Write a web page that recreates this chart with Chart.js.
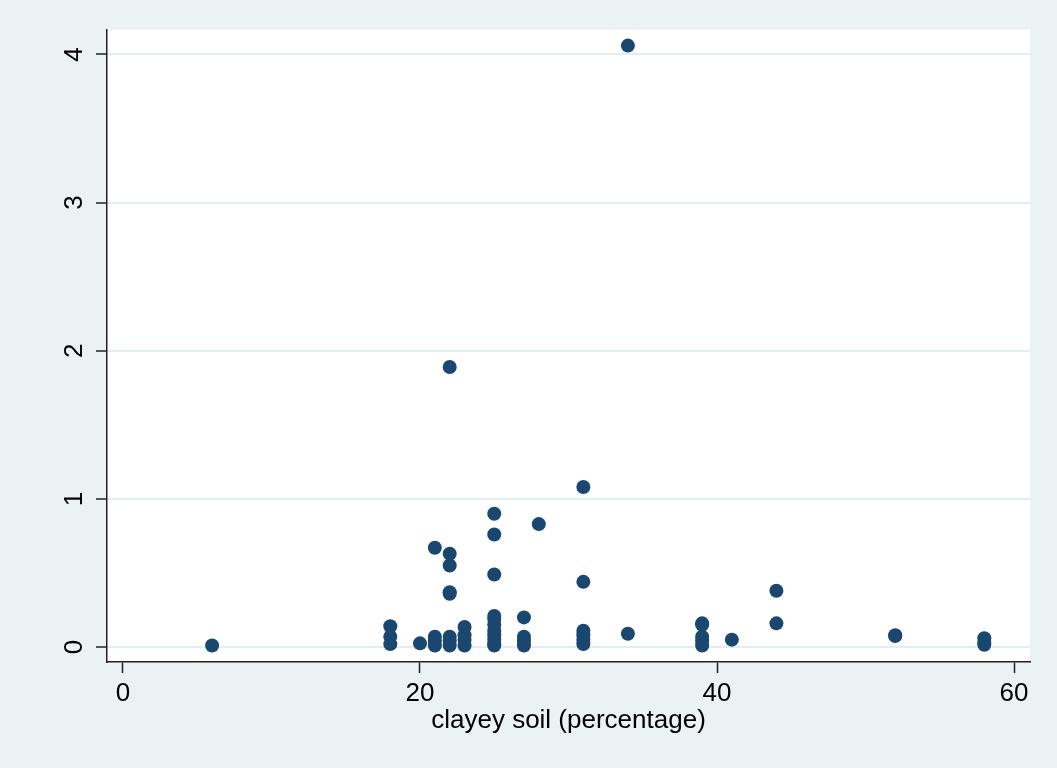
<!DOCTYPE html>
<html>
<head>
<meta charset="utf-8">
<script src="https://cdn.jsdelivr.net/npm/chart.js@4"></script>
<style>
  body { margin: 0; background: #eaf2f3; }
  #wrap { width: 1057px; height: 768px; }
</style>
</head>
<body>
<div id="wrap"><canvas id="chart"></canvas></div>
<script>
// Clay percentage of each observation (x) and the measured value (y)
const clayPct = [
  6,
  18, 18, 18,
  20,
  21, 21, 21, 21,
  22, 22, 22, 22, 22, 22, 22, 22,
  23, 23, 23, 23,
  25, 25, 25, 25, 25, 25, 25, 25, 25, 25, 25,
  27, 27, 27, 27,
  28,
  31, 31, 31, 31, 31, 31,
  34, 34,
  39, 39, 39, 39, 39,
  41,
  44, 44,
  52, 52,
  58, 58, 58,
];
const yValues = [
  0.01,
  0.14, 0.07, 0.02,
  0.025,
  0.67, 0.07, 0.04, 0.01,
  1.89, 0.63, 0.55, 0.37, 0.36, 0.07, 0.04, 0.01,
  0.135, 0.08, 0.05, 0.01,
  0.90, 0.76, 0.49, 0.21, 0.19, 0.15, 0.11, 0.08, 0.05, 0.02, 0.01,
  0.20, 0.07, 0.04, 0.01,
  0.83,
  1.08, 0.44, 0.11, 0.08, 0.05, 0.02,
  4.06, 0.09,
  0.16, 0.15, 0.07, 0.04, 0.01,
  0.05,
  0.38, 0.16,
  0.08, 0.075,
  0.06, 0.03, 0.015,
];

const xTicks = [0, 20, 40, 60];
const yTicks = [0, 1, 2, 3, 4];
const xTitle = "clayey soil (percentage)";

const BG = "#eaf2f3";
const MARKER = "#1a476f";
const FONT = { family: "'Liberation Sans', Arial, sans-serif", size: 26 };

// Paint the outer region light blue-grey and the plot region white
const backgroundPlugin = {
  id: "bg",
  beforeDraw(chart) {
    const { ctx, chartArea: a } = chart;
    ctx.save();
    ctx.fillStyle = BG;
    ctx.fillRect(0, 0, chart.width, chart.height);
    ctx.fillStyle = "#ffffff";
    ctx.fillRect(a.left, a.top, a.right - a.left, a.bottom - a.top);
    ctx.restore();
  },
};

const points = clayPct.map((x, i) => ({ x, y: yValues[i] }));

new Chart(document.getElementById("chart"), {
  type: "scatter",
  data: {
    datasets: [{
      data: points,
      backgroundColor: MARKER,
      borderColor: MARKER,
      borderWidth: 0,
      pointRadius: 7,
      pointHoverRadius: 7,
    }],
  },
  options: {
    responsive: true,
    maintainAspectRatio: false,
    animation: false,
    layout: { padding: { left: 0, top: 28, right: 27, bottom: 0 } },
    plugins: {
      legend: { display: false },
      tooltip: { enabled: false },
    },
    scales: {
      x: {
        type: "linear",
        min: -1.077,
        max: 61.077,
        afterBuildTicks: s => { s.ticks = xTicks.map(v => ({ value: v })); },
        afterFit: s => { s.height = 106; },
        border: { display: true, color: "#222", width: 1.5 },
        grid: {
          drawOnChartArea: false,
          drawTicks: true,
          tickLength: 11,
          tickColor: "#222",
          tickWidth: 1.5,
        },
        ticks: {
          color: "#000",
          font: FONT,
          padding: 5,
          maxRotation: 0,
          callback: v => String(v),
        },
        title: {
          display: true,
          text: xTitle,
          color: "#000",
          font: FONT,
          padding: { top: 0, bottom: 32 },
        },
      },
      y: {
        type: "linear",
        min: -0.101,
        max: 4.168,
        afterBuildTicks: s => { s.ticks = yTicks.map(v => ({ value: v })); },
        afterFit: s => { s.width = 107; },
        border: { display: true, color: "#222", width: 1.5 },
        grid: {
          color: "#e4eef0",
          lineWidth: 2,
          drawTicks: true,
          tickLength: 11,
          tickColor: "#222",
          tickWidth: 1.5,
        },
        ticks: {
          color: "#000",
          font: FONT,
          padding: 14,
          minRotation: 90,
          maxRotation: 90,
          crossAlign: "center",
          callback: v => String(v),
        },
      },
    },
  },
  plugins: [backgroundPlugin],
});
</script>
</body>
</html>
